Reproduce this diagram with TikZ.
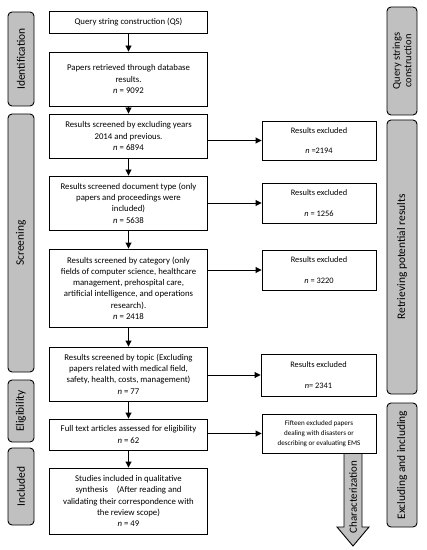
\documentclass[tikz,border=0pt]{standalone}
\usepackage{fontspec}
\setmainfont{Carlito}
\usetikzlibrary{arrows.meta}
\definecolor{phasegray}{RGB}{192,192,192}
\begin{document}
\begin{tikzpicture}[x=1bp,y=-1bp,
  mainbox/.style={draw, line width=0.9pt, align=center, inner sep=0pt, minimum width=158bp, font=\fontsize{8.8}{11.3}\selectfont},
  exbox/.style={draw, line width=0.9pt, align=center, inner sep=0pt, minimum width=114bp, font=\fontsize{8.4}{10.5}\selectfont},
  phase/.style={draw, line width=0.9pt, fill=phasegray, rounded corners=4bp, rotate=90, align=center, inner sep=0pt, font=\fontsize{11.5}{12.5}\selectfont},
  flow/.style={line width=0.9pt, -{Triangle[length=6bp,width=6bp]}}]
\useasboundingbox (0,0) rectangle (426,550);
% main column
\node[mainbox, minimum height=22bp] (b1) at (128.5,22) {Query string construction (QS)};
\node[mainbox, minimum height=54bp] (b2) at (128.5,79) {Papers retrieved through database\\results.\\\textit{n} = 9092};
\node[mainbox, minimum height=44bp] (b3) at (128.5,136) {Results screened by excluding years\\2014 and previous.\\\textit{n} = 6894};
\node[mainbox, minimum height=54bp] (b4) at (128.5,203) {Results screened document type (only\\papers and proceedings were\\included)\\\textit{n} = 5638};
\node[mainbox, minimum height=78bp] (b5) at (128.5,288) {Results screened by category (only\\fields of computer science, healthcare\\management, prehospital care,\\artificial intelligence, and operations\\research).\\\textit{n} = 2418};
\node[mainbox, minimum height=54bp] (b6) at (128.5,374) {Results screened by topic (Excluding\\papers related with medical field,\\safety, health, costs, management)\\\textit{n} = 77};
\node[mainbox, minimum height=31bp] (b7) at (128.5,434.5) {Full text articles assessed for eligibility\\\textit{n} = 62};
\node[mainbox, minimum height=66bp] (b8) at (128.5,501) {Studies included in qualitative\\synthesis\quad(After reading and\\validating their correspondence with\\the review scope)\\\textit{n} = 49};
% excluded column
\node[exbox, minimum height=39bp] (e1) at (319,140.5) {Results excluded\\[10bp]\textit{n} =2194};
\node[exbox, minimum height=40bp] (e2) at (319,203) {Results excluded\\[10bp]\textit{n} = 1256};
\node[exbox, minimum height=40bp] (e3) at (319,270) {Results excluded\\[10bp]\textit{n} = 3220};
\node[exbox, minimum height=42bp, minimum width=115bp] (e4) at (318.5,375) {Results excluded\\[10bp]\textit{n}= 2341};
\node[exbox, minimum height=39bp, font=\fontsize{7.1}{10}\selectfont] (e5) at (319,433.5) {Fifteen excluded papers\\dealing with disasters or\\describing or evaluating EMS};
% left phases
\node[phase, minimum width=94bp, minimum height=26bp] (pid) at (21,59) {Identification};
\node[phase, minimum width=258bp, minimum height=26bp] (psc) at (21,243) {Screening};
\node[phase, minimum width=62bp, minimum height=26bp] (pel) at (21,411) {Eligibility};
\node[phase, minimum width=77bp, minimum height=26bp] (pin) at (21,486.5) {Included};
% right phases
\node[phase, minimum width=108bp, minimum height=30bp, font=\fontsize{10.5}{11.5}\selectfont] (pqs) at (402,61) {Query strings\\construction};
\node[phase, minimum width=274bp, minimum height=30bp] (prp) at (402,257) {Retrieving potential results};
\node[phase, minimum width=124bp, minimum height=30bp] (pei) at (402,465) {Excluding and including};
% vertical flow
\draw[flow] (b1) -- (b2);
\draw[flow] (b2) -- (b3);
\draw[flow] (b3) -- (b4);
\draw[flow] (b4) -- (b5);
\draw[flow] (b5) -- (b6);
\draw[flow] (b6) -- (b7);
\draw[flow] (b7) -- (b8);
% exclusions
\draw[flow] (b3.east |- e1.west) -- (e1.west);
\draw[flow] (b4.east |- e2.west) -- (e2.west);
\draw[flow] (b5.east |- e3.west) -- (e3.west);
\draw[flow] (b6.east |- e4.west) -- (e4.west);
\draw[flow] (b7.east |- e5.west) -- (e5.west);
% characterization arrow
\draw[line width=0.9pt, fill=phasegray, line join=miter]
  (344,453.5) -- (362,453.5) -- (362,527) -- (369,527) -- (353,546) -- (337,527) -- (344,527) -- cycle;
\node[rotate=90, inner sep=0pt, font=\fontsize{11}{12}\selectfont] (chz) at (353,497) {Characterization};
\end{tikzpicture}
\end{document}
